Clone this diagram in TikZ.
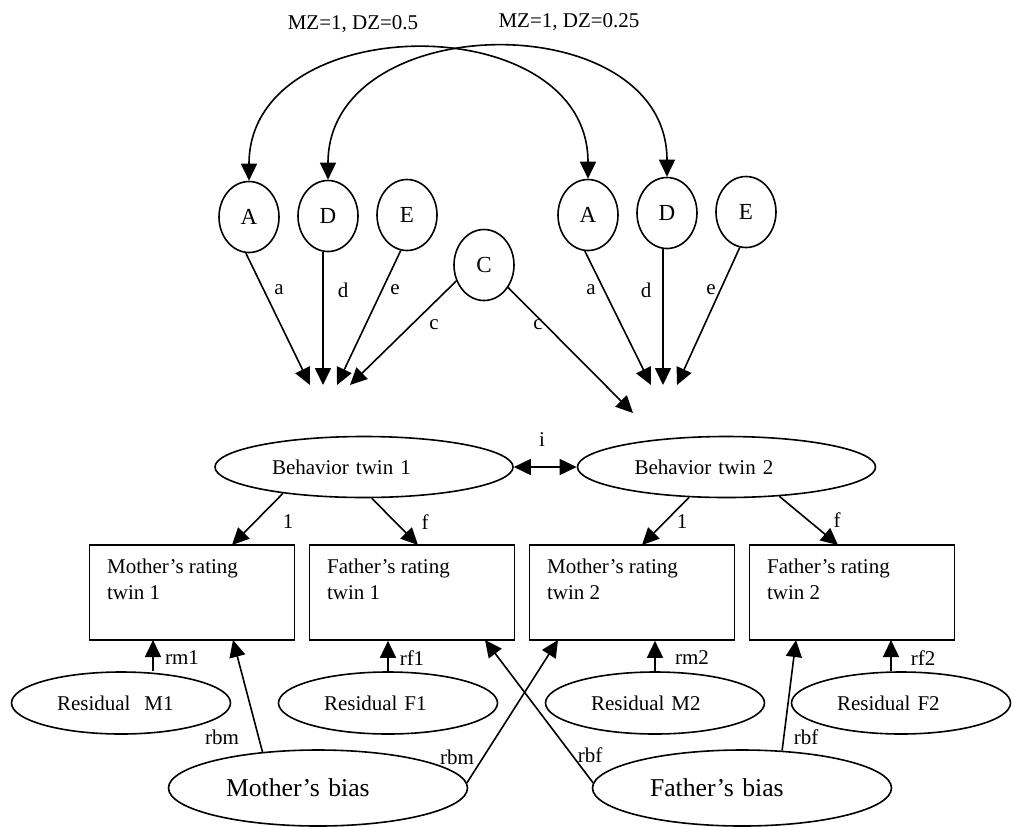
\documentclass[tikz,border=0pt]{standalone}
\usepackage{fontspec}
\setmainfont{Liberation Serif}
\usetikzlibrary{
  arrows.meta,
  shapes.geometric
}
\tikzset{
  semnode/.style={
    draw, line width=0.8pt, inner sep=0pt, font=\fontsize{10.5}{13}\selectfont
  },
  factor/.style={semnode, ellipse, minimum width=30pt, minimum height=35.5pt, font=\fontsize{11.5}{13}\selectfont},
  latent/.style={semnode, ellipse, minimum width=149pt, minimum height=30.5pt, text width=92pt, align=left},
  residual/.style={semnode, ellipse, minimum width=109.5pt, minimum height=31pt, text width=64pt, align=left},
  bias/.style={semnode, ellipse, minimum width=149.5pt, minimum height=38pt, text width=92pt, align=left,
    font=\fontsize{12.85}{15}\selectfont},
  ratebox/.style={semnode, rectangle, minimum width=102.5pt, minimum height=47.5pt},
  boxtext/.style={anchor=north west, align=left, inner sep=0pt, xshift=9pt, yshift=-7pt,
    font=\fontsize{10.5}{13}\selectfont},
  causal/.style={-{Triangle[length=8.5pt, width=8pt]}, line width=0.8pt},
  twoway/.style={{Triangle[length=8.5pt, width=8pt]}-{Triangle[length=8.5pt, width=8pt]}, line width=0.8pt},
  coef/.style={inner sep=0pt, font=\fontsize{10.5}{13}\selectfont}
}
\begin{document}
\begin{tikzpicture}[x=0.5pt, y=-0.5pt]
  \useasboundingbox (0,0) rectangle (1013,826);
  \node[factor] (A1) at (249,217) {A};
  \node[factor] (D1) at (328,216) {D};
  \node[factor] (E1) at (407,215) {E};
  \node[factor] (C) at (484,265) {C};
  \node[factor] (A2) at (588,215) {A};
  \node[factor] (D2) at (667,213) {D};
  \node[factor] (E2) at (746,212) {E};
  \draw[twoway] (A1.north) to[out=90, in=90, looseness=1.3] (A2.north);
  \draw[twoway] (D1.north) to[out=90, in=90, looseness=1.3] (D2.north);
  \node[coef] (mzA) at (353,24) {MZ=1, DZ=0.5};
  \node[coef] (mzD) at (569,22) {MZ=1, DZ=0.25};

  \coordinate (tA1) at (310,385);
  \coordinate (tD1) at (323,385);
  \coordinate (tE1) at (337,385);
  \coordinate (tC1) at (350,385);
  \coordinate (tC2) at (633,413);
  \coordinate (tA2) at (651,385);
  \coordinate (tD2) at (663,385);
  \coordinate (tE2) at (677,385);
  \draw[causal] (A1.265) -- (tA1);
  \draw[causal] (tD1 |- D1.south) -- (tD1);
  \draw[causal] (E1.260) -- (tE1);
  \draw[causal] (C.210) -- (tC1);
  \draw[causal] (C.317) -- (tC2);
  \draw[causal] (A2.265) -- (tA2);
  \draw[causal] (tD2 |- D2.south) -- (tD2);
  \draw[causal] (E2.260) -- (tE2);
  \node[coef] (la1) at (279,290) {a};
  \node[coef] (ld1) at (343,290) {d};
  \node[coef] (le1) at (395,290) {e};
  \node[coef] (lc1) at (434,325) {c};
  \node[coef] (lc2) at (538,325) {c};
  \node[coef] (la2) at (591,290) {a};
  \node[coef] (ld2) at (646,290) {d};
  \node[coef] (le2) at (711,290) {e};

  \node[latent] (bt1) at (364,467) {Behavior twin 1};
  \node[latent] (bt2) at (726.5,467) {Behavior twin 2};
  \draw[twoway] (bt1.east) -- (bt2.west);
  \node[coef] (li) at (542,440) {i};

  \node[ratebox] (mr1) at (192,592.5) {};
  \node[ratebox] (fr1) at (412,592.5) {};
  \node[ratebox] (mr2) at (632,592.5) {};
  \node[ratebox] (fr2) at (852,592.5) {};
  \node[boxtext] (mr1t) at (mr1.north west) {Mother's rating\\twin 1};
  \node[boxtext] (fr1t) at (fr1.north west) {Father's rating\\twin 1};
  \node[boxtext] (mr2t) at (mr2.north west) {Mother's rating\\twin 2};
  \node[boxtext] (fr2t) at (fr2.north west) {Father's rating\\twin 2};

  \coordinate (t11) at (232,545);
  \coordinate (tf1) at (418,545);
  \coordinate (t12) at (642,545);
  \coordinate (tf2) at (838,545);
  \draw[causal] (bt1.198) -- (t11);
  \draw[causal] (bt1.284) -- (tf1);
  \draw[causal] (bt2.219) -- (t12);
  \draw[causal] (bt2.331) -- (tf2);
  \node[coef] (l11) at (288,522) {1};
  \node[coef] (lf1) at (425,522) {f};
  \node[coef] (l12) at (682,522) {1};
  \node[coef] (lf2) at (837,520) {f};

  \node[residual] (rM1) at (121,703) {Residual~ M1};
  \node[residual] (rF1) at (388,703) {Residual F1};
  \node[residual] (rM2) at (655,703) {Residual M2};
  \node[residual] (rF2) at (901,703) {Residual F2};
  \coordinate (pM1) at (153,640);
  \coordinate (pF2) at (891,640);
  \draw[causal] (pM1 |- rM1.north) -- (pM1);
  \draw[causal] (rF1.north) -- (rF1.north |- fr1.south);
  \draw[causal] (rM2.north) -- (rM2.north |- mr2.south);
  \draw[causal] (pF2 |- rF2.north) -- (pF2);
  \node[coef] (lm1) at (182,658) {rm1};
  \node[coef] (lfr1) at (412,658) {rf1};
  \node[coef] (lm2) at (692,658) {rm2};
  \node[coef] (lfr2) at (923,658) {rf2};

  \node[bias] (mb) at (318,788) {Mother's bias};
  \node[bias] (fb) at (742,788) {Father's bias};
  \coordinate (pbm1) at (233,640);
  \coordinate (pbm2) at (558,640);
  \coordinate (pbf1) at (485,640);
  \coordinate (pbf2) at (796,640);
  \draw[causal] (mb.147) -- (pbm1);
  \draw[causal] (mb.2) -- (pbm2);
  \draw[causal] (fb.178) -- (pbf1);
  \draw[causal] (fb.43) -- (pbf2);
  \node[coef] (lbm1) at (222,737) {rbm};
  \node[coef] (lbm2) at (457,757) {rbm};
  \node[coef] (lbf1) at (590,755) {rbf};
  \node[coef] (lbf2) at (806,737) {rbf};
\end{tikzpicture}
\end{document}
